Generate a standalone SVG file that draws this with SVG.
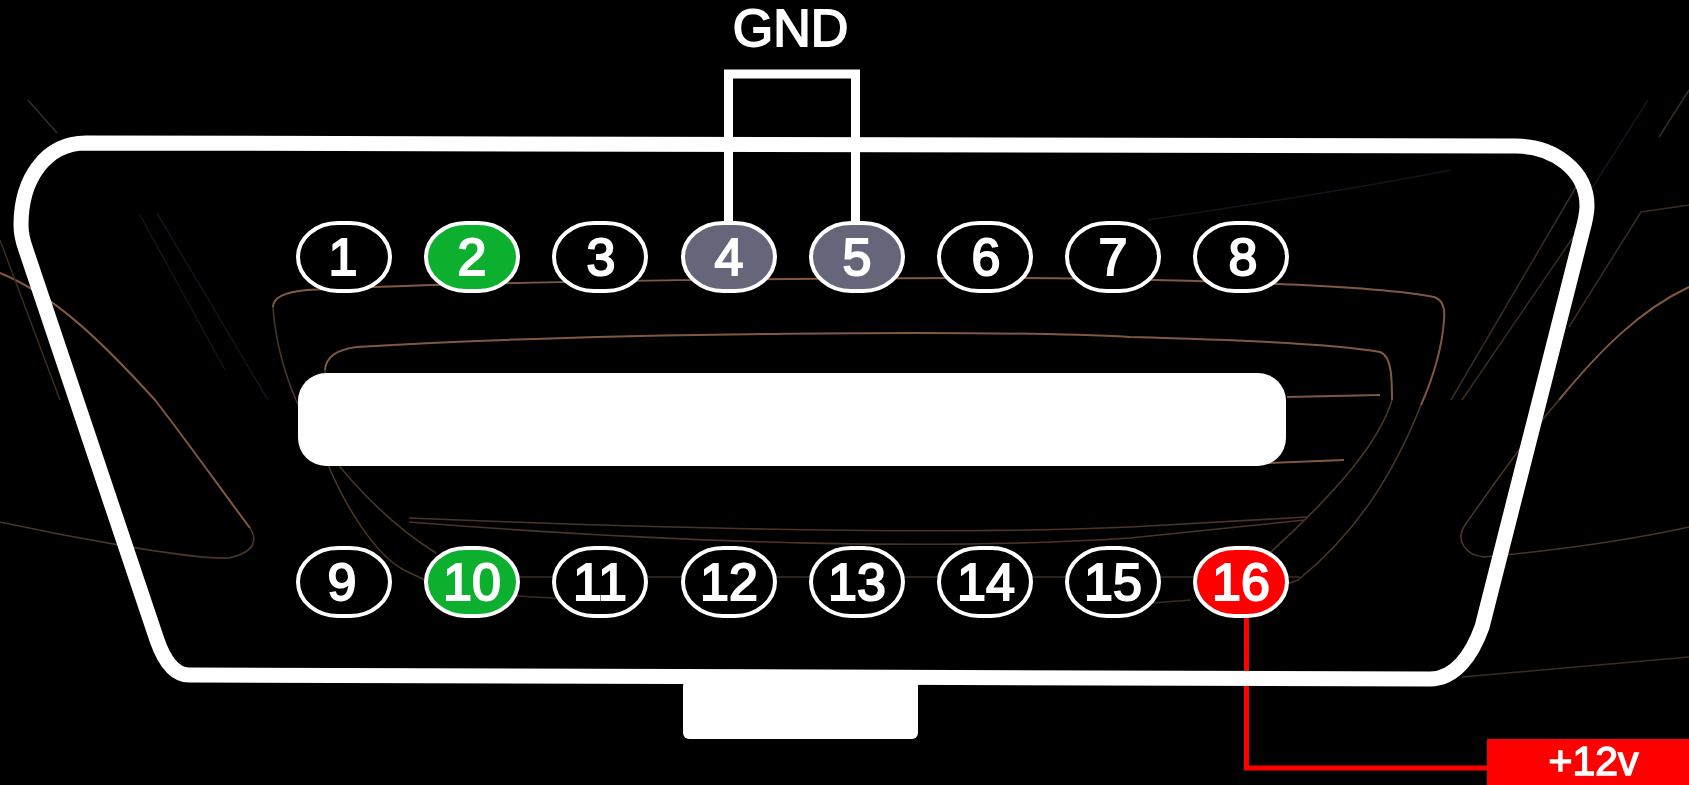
<svg xmlns="http://www.w3.org/2000/svg" width="1689" height="785" viewBox="0 0 1689 785">
<style>
.bg{fill:none;stroke:#80593f;stroke-width:2}
.bf{fill:none;stroke:#4a3528;stroke-width:1.6}
.bd{fill:none;stroke:#3a2c24;stroke-width:1.5}
.bt{fill:none;stroke:#10191d;stroke-width:1.5}
.pin{fill:#000;stroke:#fff;stroke-width:4}
.gr{fill:#0bb02f}.gy{fill:#66667a}.rd{fill:#f00}
.n{font-family:"Liberation Sans",Arial,sans-serif;font-size:52px;fill:#fff;stroke:#fff;stroke-width:2;text-anchor:middle}
.t{font-family:"Liberation Sans",Arial,sans-serif;fill:#fff;stroke:#fff;stroke-width:1.8;text-anchor:middle}
.wire{fill:none;stroke-linejoin:miter}
</style>
<defs><filter id="soft" x="-2%" y="-2%" width="104%" height="104%"><feGaussianBlur stdDeviation="0.6"/></filter></defs>
<rect width="1689" height="785" fill="#000"/>
<g id="background" filter="url(#soft)">
<path class="bg" d="M0,273C55,295 105,345 155,400C190,445 225,495 250,528"/>
<path class="bf" d="M250,528C258,540 255,552 229,558C190,560 60,535 0,522"/>
<path class="bd" d="M0,240L60,400M28,100L57,133"/>
<path class="bt" d="M157,213L268,400M140,215L225,370"/>
<path class="bg" d="M273,307C273,297 285,292 307,290C500,280 1000,275 1155,280C1280,283 1390,288 1434,297C1444,300 1445,310 1444,320C1442,350 1432,380 1421,405"/>
<path class="bf" d="M1421,405C1395,470 1360,530 1298,580L1270,590M273,307C275,340 285,375 296,400C320,450 375,515 436,553"/>
<path class="bg" d="M325,370C326,355 340,349 357,347C600,332 1000,330 1130,337C1250,340 1340,345 1380,352C1392,356 1392,380 1392,400"/>
<path class="bf" d="M1392,400C1380,440 1340,490 1262,560M325,370L329,467C345,505 375,555 404,570L429,582"/>
<path class="bd" d="M436,577L1300,577M429,582C480,595 520,597 600,600M1100,607L1191,600"/>
<path class="bf" d="M409,518C700,530 950,535 1130,527L1307,517M409,522C700,545 950,550 1130,538L1305,520"/>
<path class="bg" d="M1287,397L1380,395M1266,463L1344,460"/>
<path class="bg" d="M1689,287C1640,310 1600,350 1559,400"/>
<path class="bf" d="M1559,400C1520,445 1490,490 1465,525C1455,540 1465,555 1484,557C1560,550 1630,540 1689,527"/>
<path class="bd" d="M1689,205L1641,212L1569,327M1576,187L1451,400M1580,227L1462,400"/>
<path class="bt" d="M1648,100L1591,190M1148,220C1250,205 1350,190 1451,170"/>
<path class="bd" d="M1689,90L1659,137M1462,677L1689,657"/>
</g>
<g id="connectors" filter="url(#soft)">
<path id="gnd-wire" class="wire" stroke="#fff" stroke-width="9" d="M728.5,224V74H855.5V224"/>
<path id="v12-wire" class="wire" stroke="#f00" stroke-width="5" d="M1246.5,612V768H1490"/>
</g>
<g id="connector-body" filter="url(#soft)">
<path id="outline" fill="none" stroke="#fff" stroke-width="15" d="M86,143L1516,146C1553,146 1587,170 1587,206C1587,215 1585,222 1582,233L1482,627C1472,655 1455,679 1430,679L189,675C174,675 164,660 157,640L26,250C23,242 21,235 21,225C21,180 45,143 86,143Z"/>
<rect id="slot" x="298" y="373" width="988" height="93" rx="28" fill="#fff"/>
<rect id="tab" x="683" y="680" width="235" height="59" rx="6" fill="#fff"/>
</g>
<g id="labels" filter="url(#soft)">
<g id="gnd-label"><text class="t" x="790.5" y="46" font-size="52">GND</text></g>
<g id="v12-label"><rect x="1487" y="739" width="202" height="46" fill="#f00"/><text class="t" x="1593.5" y="775" font-size="41" style="stroke-width:1.4">+12v</text></g>
</g>
<g id="pins" filter="url(#soft)">
<g id="pin-1"><rect class="pin" x="298" y="223" width="92" height="68" rx="40" ry="34"/><text class="n" x="343" y="275">1</text></g>
<g id="pin-2"><rect class="pin gr" x="426" y="223" width="92" height="68" rx="40" ry="34"/><text class="n" x="472" y="275">2</text></g>
<g id="pin-3"><rect class="pin" x="554" y="223" width="92" height="68" rx="40" ry="34"/><text class="n" x="601" y="275">3</text></g>
<g id="pin-4"><rect class="pin gy" x="683" y="223" width="92" height="68" rx="40" ry="34"/><text class="n" x="729" y="275">4</text></g>
<g id="pin-5"><rect class="pin gy" x="811" y="223" width="92" height="68" rx="40" ry="34"/><text class="n" x="857" y="275">5</text></g>
<g id="pin-6"><rect class="pin" x="939" y="223" width="92" height="68" rx="40" ry="34"/><text class="n" x="986" y="275">6</text></g>
<g id="pin-7"><rect class="pin" x="1067" y="223" width="92" height="68" rx="40" ry="34"/><text class="n" x="1113" y="275">7</text></g>
<g id="pin-8"><rect class="pin" x="1195" y="223" width="92" height="68" rx="40" ry="34"/><text class="n" x="1243" y="275">8</text></g>
<g id="pin-9"><rect class="pin" x="298" y="548" width="92" height="68" rx="40" ry="34"/><text class="n" x="342" y="600">9</text></g>
<g id="pin-10"><rect class="pin gr" x="426" y="548" width="92" height="68" rx="40" ry="34"/><text class="n" x="472" y="600">10</text></g>
<g id="pin-11"><rect class="pin" x="554" y="548" width="92" height="68" rx="40" ry="34"/><text class="n" x="600" y="600">11</text></g>
<g id="pin-12"><rect class="pin" x="683" y="548" width="92" height="68" rx="40" ry="34"/><text class="n" x="729" y="600">12</text></g>
<g id="pin-13"><rect class="pin" x="811" y="548" width="92" height="68" rx="40" ry="34"/><text class="n" x="857" y="600">13</text></g>
<g id="pin-14"><rect class="pin" x="939" y="548" width="92" height="68" rx="40" ry="34"/><text class="n" x="986" y="600">14</text></g>
<g id="pin-15"><rect class="pin" x="1067" y="548" width="92" height="68" rx="40" ry="34"/><text class="n" x="1113" y="600">15</text></g>
<g id="pin-16"><rect class="pin rd" x="1195" y="548" width="92" height="68" rx="40" ry="34"/><text class="n" x="1241" y="600">16</text></g>
</g>
</svg>
